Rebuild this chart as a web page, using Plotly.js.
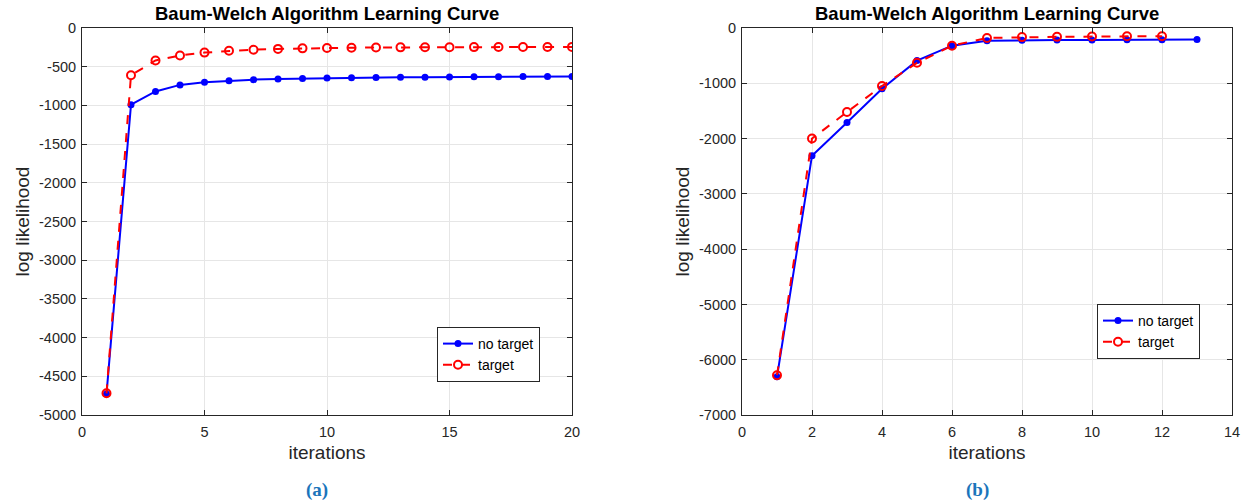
<!DOCTYPE html>
<html><head><meta charset="utf-8">
<script src="https://cdn.plot.ly/plotly-3.0.1.min.js"></script>
<style>html,body{margin:0;padding:0;background:#fff}#c{width:1253px;height:502px}</style>
</head><body><div id="c"></div>
<script>
var itersA = [1,2,3,4,5,6,7,8,9,10,11,12,13,14,15,16,17,18,19,20];
var noTargetA = [-4730,-990,-820,-735,-700,-680,-667,-658,-652,-647,-643,-640,-637,-635,-633,-631,-630,-628,-627,-625];
var targetA = [-4720,-610,-420,-355,-318,-295,-280,-270,-263,-258,-255,-252,-250,-249,-248,-247,-246,-245,-245,-244];
var itersB_no = [1,2,3,4,5,6,7,8,9,10,11,12,13];
var noTargetB = [-6310,-2310,-1710,-1100,-590,-320,-230,-220,-218,-215,-213,-212,-210];
var itersB_t = [1,2,3,4,5,6,7,8,9,10,11,12];
var targetB = [-6280,-2000,-1520,-1050,-630,-320,-180,-165,-160,-155,-150,-148];
var xTicksA = [0,5,10,15,20];
var xTickTextA = ['0','5','10','15','20'];
var yTicksA = [-5000,-4500,-4000,-3500,-3000,-2500,-2000,-1500,-1000,-500,0];
var yTickTextA = ['-5000','-4500','-4000','-3500','-3000','-2500','-2000','-1500','-1000','-500','0'];
var xTicksB = [0,2,4,6,8,10,12,14];
var xTickTextB = ['0','2','4','6','8','10','12','14'];
var yTicksB = [-7000,-6000,-5000,-4000,-3000,-2000,-1000,0];
var yTickTextB = ['-7000','-6000','-5000','-4000','-3000','-2000','-1000','0'];
var titleText = 'Baum-Welch Algorithm Learning Curve';
var xLabel = 'iterations';
var yLabel = 'log likelihood';
var captions = ['(a)','(b)'];

var W = 1253, H = 502;
function dx(a,b){return [a/W, b/W];}
function dy(top,bot){return [1-bot/H, 1-top/H];}

var blue = '#0000ff', red = '#ff0000';
function noT(x,y,xa,ya,lg){return {x:x,y:y,xaxis:xa,yaxis:ya,legend:lg,name:'no target',mode:'lines+markers',
  line:{color:blue,width:2},marker:{color:blue,size:7,symbol:'circle'}};}
function tT(x,y,xa,ya,lg){return {x:x,y:y,xaxis:xa,yaxis:ya,legend:lg,name:'target',mode:'lines+markers',
  line:{color:red,width:2,dash:'dash'},marker:{color:red,size:8,symbol:'circle-open',line:{color:red,width:2}}};}

var data = [
  noT(itersA,noTargetA,'x','y','legend'),
  tT(itersA,targetA,'x','y','legend'),
  noT(itersB_no,noTargetB,'x2','y2','legend2'),
  tT(itersB_t,targetB,'x2','y2','legend2')
];

var FONT = 'Liberation Sans, Arial, sans-serif';
var tickF = {family:FONT, size:14.5, color:'#262626'};
function ax(dom, range, tv, tt, anchor, title, standoff, lblstand){
  return {domain:dom, range:range, tickmode:'array', tickvals:tv, ticktext:tt, anchor:anchor, showgrid:true, gridcolor:'#e6e6e6', gridwidth:1,
    zeroline:false, showline:true, linecolor:'#262626', linewidth:1, mirror:'ticks', ticks:'inside', ticklen:5,
    tickcolor:'#262626', tickfont:tickF, fixedrange:true, ticklabelstandoff:lblstand,
    title:{text:title, font:{family:FONT, size:19, color:'#262626'}, standoff:standoff}};
}
var yTop = 28, yBot = 415;
var legF = {family:FONT, size:14, color:'#000'};
var layout = {
  width:W, height:H, margin:{l:0,r:0,t:0,b:0}, paper_bgcolor:'#fff', plot_bgcolor:'#fff', showlegend:true,
  xaxis: ax(dx(82,572),[0,20],xTicksA,xTickTextA,'y',xLabel,6,4),
  yaxis: ax(dy(yTop,yBot),[-5000,0],yTicksA,yTickTextA,'x',yLabel,4,2),
  xaxis2: ax(dx(742,1232),[0,14],xTicksB,xTickTextB,'y2',xLabel,6,4),
  yaxis2: ax(dy(yTop,yBot),[-7000,0],yTicksB,yTickTextB,'x2',yLabel,4,2),
  legend:{x:437/W, y:1-327/H, xanchor:'left', yanchor:'top', bgcolor:'#fff', bordercolor:'#262626', borderwidth:1,
    font:legF, tracegroupgap:0},
  legend2:{x:1097/W, y:1-304/H, xanchor:'left', yanchor:'top', bgcolor:'#fff', bordercolor:'#262626', borderwidth:1,
    font:legF, tracegroupgap:0},
  annotations:[
    {text:'<b>'+titleText+'</b>', x:327/W, y:1-14/H, xref:'paper', yref:'paper', showarrow:false, xanchor:'center', yanchor:'middle',
      font:{family:FONT, size:18.5, color:'#000'}},
    {text:'<b>'+titleText+'</b>', x:987/W, y:1-14/H, xref:'paper', yref:'paper', showarrow:false, xanchor:'center', yanchor:'middle',
      font:{family:FONT, size:18.5, color:'#000'}},
    {text:'<b>'+captions[0]+'</b>', x:317/W, y:1-490/H, xref:'paper', yref:'paper', showarrow:false, xanchor:'center', yanchor:'middle',
      font:{family:'Liberation Serif, Times New Roman, serif', size:19, color:'#1b75bb'}},
    {text:'<b>'+captions[1]+'</b>', x:977/W, y:1-490/H, xref:'paper', yref:'paper', showarrow:false, xanchor:'center', yanchor:'middle',
      font:{family:'Liberation Serif, Times New Roman, serif', size:19, color:'#1b75bb'}}
  ]
};
Plotly.newPlot('c', data, layout, {displayModeBar:false, staticPlot:true});
</script></body></html>
